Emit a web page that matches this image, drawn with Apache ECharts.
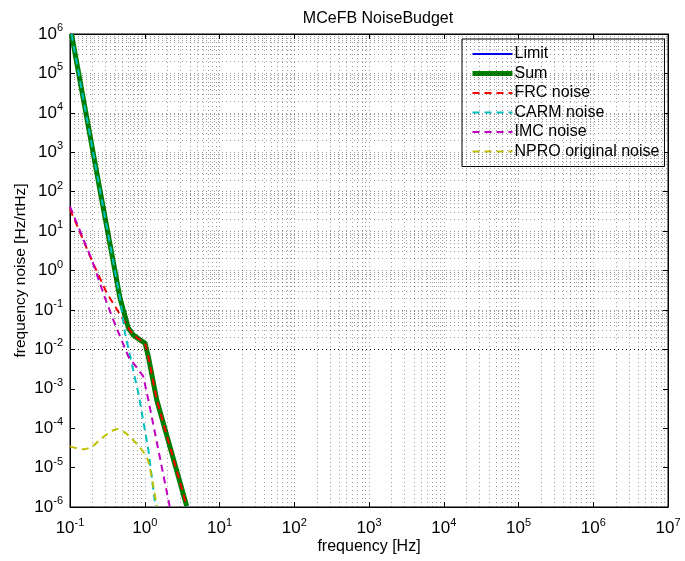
<!DOCTYPE html>
<html><head><meta charset="utf-8">
<script src="https://cdn.jsdelivr.net/npm/echarts@6/dist/echarts.min.js"></script>
<style>html,body{margin:0;padding:0;background:#fff}#c{width:685px;height:561px}</style>
</head><body><div id="c"></div>
<script>
// ---- data ----
const xTicks = [0.1, 1, 10, 100, 1e3, 1e4, 1e5, 1e6, 1e7];
const yTicks = [1e-6, 1e-5, 1e-4, 1e-3, 1e-2, 1e-1, 1, 10, 100, 1e3, 1e4, 1e5, 1e6];

const limitX = [0.1047, 0.252, 0.467, 0.516, 0.603, 0.697, 0.864, 1.008, 1.116, 1.445, 3.64];
const limitY = [1e6, 109, 0.198, 0.1, 0.035, 0.0233, 0.0174, 0.01436, 0.00658, 5.27e-4, 1.05e-6];

const sumX = [0.1047, 0.252, 0.467, 0.516, 0.603, 0.697, 0.864, 1.008, 1.116, 1.445, 3.64];
const sumY = [1e6, 109, 0.198, 0.1, 0.035, 0.0233, 0.0174, 0.01436, 0.00658, 5.27e-4, 1.05e-6];

const frcX = [0.1, 0.195, 0.31, 0.603, 0.697, 0.864, 1.008, 1.116, 1.445, 3.64];
const frcY = [36, 1.85, 0.269, 0.035, 0.0233, 0.0174, 0.01436, 0.00658, 5.27e-4, 1.05e-6];

const carmX = [0.1047, 0.252, 0.467, 0.544, 0.668, 0.82, 1.116, 1.37, 1.394];
const carmY = [1e6, 109, 0.198, 0.0257, 0.00448, 7.78e-4, 2.86e-5, 1.3e-6, 1e-6];

const imcX = [0.1, 0.195, 0.294, 0.379, 0.603, 0.82, 0.956, 1.116, 2.065, 2.16];
const imcY = [42, 1.9, 0.201, 0.0558, 0.0066, 0.00303, 0.00205, 5.27e-4, 1.55e-6, 1e-6];

const nproX = [0.1, 0.15, 0.2, 0.252, 0.33, 0.43, 0.55, 0.7, 0.864, 1.0, 1.116, 1.3, 1.445];
const nproY = [3.46e-5, 2.9e-5, 3.5e-5, 5.1e-5, 7.5e-5, 9.5e-5, 7.6e-5, 5e-5, 3.2e-5, 2.2e-5, 1.45e-5, 3.4e-6, 1.05e-6];

const seriesNames = ['Limit', 'Sum', 'FRC noise', 'CARM noise', 'IMC noise', 'NPRO original noise'];

// ---- build ----
const FONT = 'Liberation Sans, Arial, Helvetica, sans-serif';
const pairs = (xs, ys) => xs.map((x, i) => [x, ys[i]]);
function pow10Label(v) {
  const e = Math.round(Math.log10(v));
  return '{n|10}{e|' + e + '}';
}
const rich = {
  n: {fontSize: 17, fontFamily: FONT, color: '#000'},
  e: {fontSize: 11, fontFamily: FONT, color: '#000', verticalAlign: 'top', padding: [0, 0, 12, 0]}
};
// grid positions (1..9 x decade), drawn as dotted lines
const gridX = [], gridY = [];
for (let k = -1; k < 7; k++) for (let m = 1; m <= 9; m++) if (!(k === -1 && m === 1)) gridX.push(m * Math.pow(10, k));
for (let k = -6; k < 6; k++) for (let m = 1; m <= 9; m++) if (!(k === -6 && m === 1)) gridY.push(m * Math.pow(10, k));
const gridDot = {color: '#000', width: 1, type: [1, 3], opacity: 0.38};

const chart = echarts.init(document.getElementById('c'), null, {renderer: 'canvas'});
const dash = [7, 5];
const axisBase = {
  type: 'log', logBase: 10, interval: 1,
  axisLine: {show: true, onZero: false, lineStyle: {color: '#000', width: 1}},
  axisTick: {show: true, inside: true, length: 5, lineStyle: {color: '#000'}},
  splitLine: {show: false}
};
const option = {
  animation: false,
  backgroundColor: '#fff',
  title: {text: 'MCeFB NoiseBudget', left: 373, top: 6, textAlign: 'center',
    textStyle: {fontFamily: FONT, fontSize: 16, fontWeight: 'normal', color: '#000'}},
  grid: {left: 70, right: 17, top: 34, bottom: 54, show: true, borderColor: '#000', borderWidth: 1, backgroundColor: 'transparent'},
  legend: {
    orient: 'vertical', left: 462, top: 39, width: 200,
    data: [
      {name: 'Limit', lineStyle: {width: 2}},
      {name: 'Sum', lineStyle: {width: 5}},
      {name: 'FRC noise', lineStyle: {width: 2}}, {name: 'CARM noise', lineStyle: {width: 2}},
      {name: 'IMC noise', lineStyle: {width: 2}}, {name: 'NPRO original noise', lineStyle: {width: 2}}
    ],
    itemStyle: {opacity: 0},
    backgroundColor: '#fff', borderColor: '#000', borderWidth: 1,
    padding: [7, 5, 7, 8], itemGap: 3.5, itemWidth: 40, itemHeight: 14,
    textStyle: {fontFamily: FONT, fontSize: 16, lineHeight: 14, color: '#000', padding: [0, 0, 0, -3]}
  },
  xAxis: [Object.assign({}, axisBase, {
    min: 0.1, max: 1e7, position: 'bottom',
    name: 'frequency [Hz]', nameLocation: 'middle', nameGap: 32, nameMoveOverlap: false,
    nameTextStyle: {fontFamily: FONT, fontSize: 16, color: '#000'},
    axisLabel: {formatter: pow10Label, rich: rich, margin: 10}
  }), Object.assign({}, axisBase, {
    min: 0.1, max: 1e7, position: 'top', axisLabel: {show: false}
  })],
  yAxis: [Object.assign({}, axisBase, {
    min: 1e-6, max: 1e6, position: 'left',
    name: 'frequency noise [Hz/rtHz]', nameLocation: 'middle', nameGap: 41, nameRotate: 90, nameMoveOverlap: false,
    nameTextStyle: {fontFamily: FONT, fontSize: 15.5, color: '#000'},
    axisLabel: {formatter: pow10Label, rich: rich, margin: 7}
  }), Object.assign({}, axisBase, {
    min: 1e-6, max: 1e6, position: 'right', axisLabel: {show: false}
  })],
  series: [
    {name: '_grid', type: 'line', data: [], silent: true, z: 0,
      markLine: {silent: true, symbol: 'none', label: {show: false}, animation: false,
        lineStyle: gridDot,
        data: gridX.map(v => ({xAxis: v})).concat(gridY.map(v => ({yAxis: v})))}},
    {name: 'Limit', type: 'line', data: pairs(limitX, limitY), showSymbol: false, symbol: 'none',
      lineStyle: {color: '#0000ff', width: 2}, itemStyle: {color: '#0000ff'}, z: 2},
    {name: 'Sum', type: 'line', data: pairs(sumX, sumY), showSymbol: false, symbol: 'none',
      lineStyle: {color: '#008000', width: 5}, itemStyle: {color: '#008000'}, z: 3},
    {name: 'FRC noise', type: 'line', data: pairs(frcX, frcY), showSymbol: false, symbol: 'none',
      lineStyle: {color: '#ff0000', width: 2, type: dash}, itemStyle: {color: '#ff0000'}, z: 4},
    {name: 'CARM noise', type: 'line', data: pairs(carmX, carmY), showSymbol: false, symbol: 'none',
      lineStyle: {color: '#00bfbf', width: 2, type: dash}, itemStyle: {color: '#00bfbf'}, z: 5},
    {name: 'IMC noise', type: 'line', data: pairs(imcX, imcY), showSymbol: false, symbol: 'none',
      lineStyle: {color: '#bf00bf', width: 2, type: dash}, itemStyle: {color: '#bf00bf'}, z: 6},
    {name: 'NPRO original noise', type: 'line', data: pairs(nproX, nproY), showSymbol: false, symbol: 'none', smooth: 0.3,
      lineStyle: {color: '#bfbf00', width: 2, type: dash}, itemStyle: {color: '#bfbf00'}, z: 7}
  ]
};
chart.setOption(option);
</script></body></html>
